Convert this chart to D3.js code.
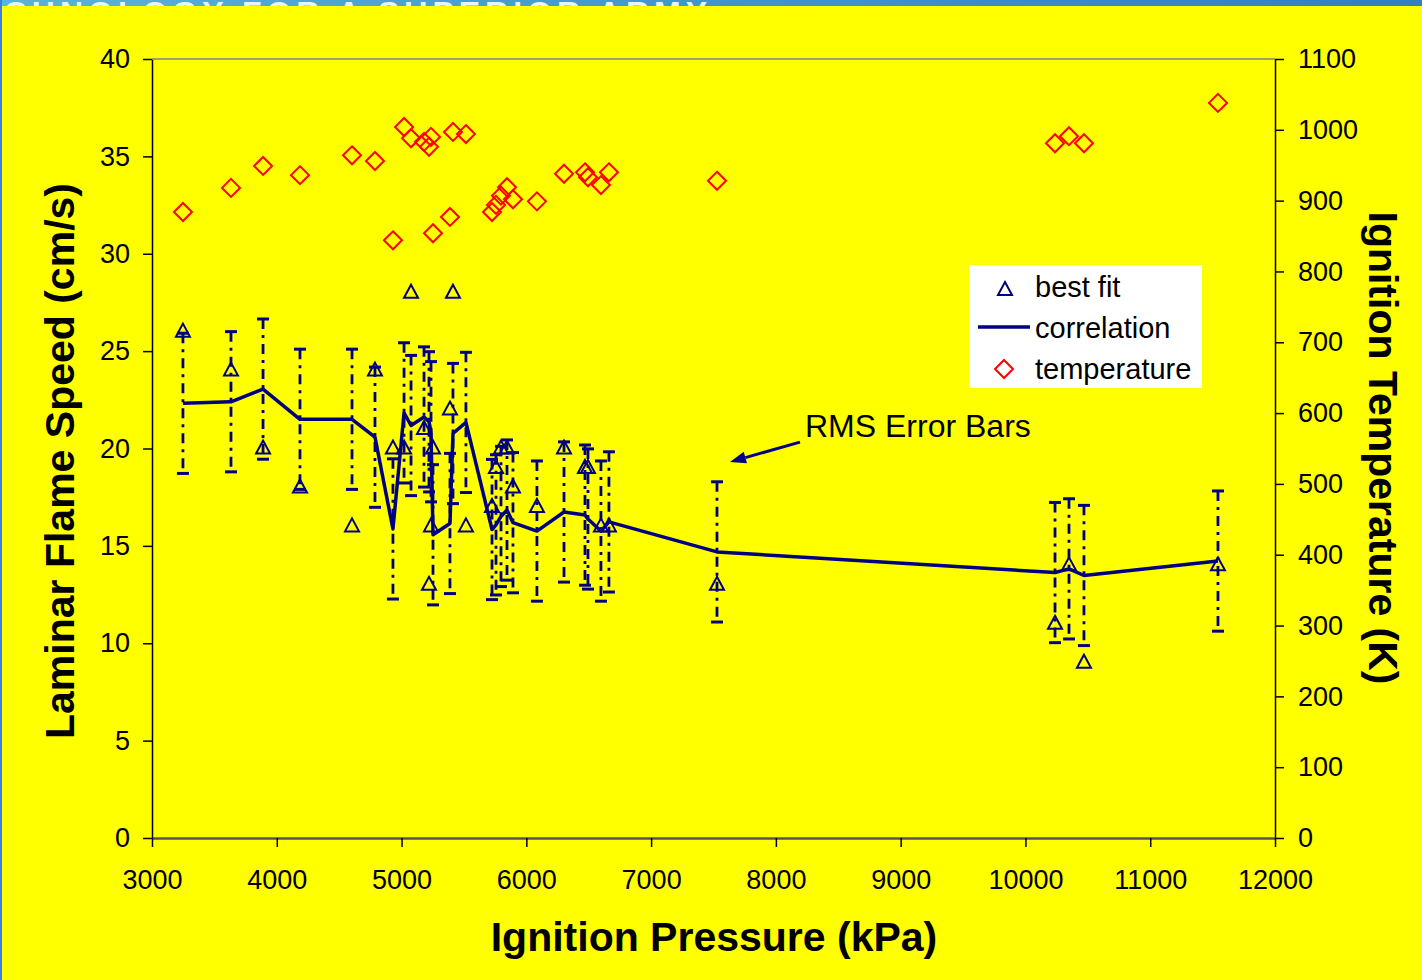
<!DOCTYPE html>
<html>
<head>
<meta charset="utf-8">
<script src="https://cdn.jsdelivr.net/npm/d3@7"></script>
<style>
  html, body { margin: 0; padding: 0; background: #ffff00; }
  svg { display: block; }
  text { font-family: "Liberation Sans", Arial, sans-serif; }
</style>
</head>
<body>
<svg id="chart" width="1422" height="980"></svg>
<script>
// ---- data ----
const pressure = [3248, 3633, 3890, 4186, 4603, 4787, 4931, 5020, 5076, 5180, 5220, 5236, 5252, 5388, 5412, 5516,
                  5725, 5757, 5797, 5845, 5893, 6085, 6302, 6470, 6494, 6598, 6662, 7528, 10237, 10349, 10469, 11543];
const bestFit = [26, 24, 20, 18, 16, 24, 20, 20, 28, 21, 13, 16, 20, 22, 28, 16,
                 17, 19, 20, 20, 18, 17, 20, 19, 19, 16, 16, 13, 11, 14, 9, 14];
const correlation = [22.32, 22.40, 23.05, 21.50, 21.50, 20.58, 15.87, 21.83, 21.18, 21.62, 21.37, 20.86, 15.57, 16.15, 20.77, 21.34,
                     15.84, 16.08, 16.51, 16.84, 16.19, 15.76, 16.74, 16.58, 16.38, 15.76, 16.23, 14.69, 13.63, 13.82, 13.48, 14.22];
const temperature = [884, 918, 949, 936, 964, 956, 844, 1004, 988, 983, 976, 990, 854, 877, 997, 994,
                     884, 894, 907, 919, 902, 899, 938, 940, 933, 922, 940, 928, 981, 991, 981, 1038];
const rmsError = 3.6;
const xTicks = [3000, 4000, 5000, 6000, 7000, 8000, 9000, 10000, 11000, 12000];
const yLeftTicks = [0, 5, 10, 15, 20, 25, 30, 35, 40];
const yRightTicks = [0, 100, 200, 300, 400, 500, 600, 700, 800, 900, 1000, 1100];
const legendLabels = ["best fit", "correlation", "temperature"];
const annotation = { text: "RMS Error Bars", from: [8193, 20.33], to: [7632, 19.31] };
const bannerText = "SUPERIOR TECHNOLOGY FOR A SUPERIOR ARMY";

// ---- setup ----
const svg = d3.select("#chart");
const NAVY = "#000080";
const x = d3.scaleLinear().domain([3000, 12000]).range([152, 1275]);
const yL = d3.scaleLinear().domain([0, 40]).range([838, 59]);
const yR = d3.scaleLinear().domain([0, 1100]).range([838, 59]);

// background + top banner
svg.append("rect").attr("width", 1422).attr("height", 980).attr("fill", "#ffff00");
const defs = svg.append("defs");
const grad = defs.append("linearGradient").attr("id", "banner").attr("x1", 0).attr("x2", 1);
grad.append("stop").attr("offset", 0).attr("stop-color", "#5ab4d8");
grad.append("stop").attr("offset", 0.5).attr("stop-color", "#3f96cc");
grad.append("stop").attr("offset", 1).attr("stop-color", "#3180c0");
defs.append("clipPath").attr("id", "bannerClip").append("rect").attr("width", 1422).attr("height", 6);
const banner = svg.append("g").attr("clip-path", "url(#bannerClip)");
banner.append("rect").attr("width", 1422).attr("height", 6).attr("fill", "url(#banner)");
banner.append("text").attr("x", 712).attr("y", 24).attr("text-anchor", "end").attr("fill", "#e8f4fa")
  .style("font-size", "32px").style("font-weight", "bold").style("letter-spacing", "5px")
  .text(bannerText);
svg.append("rect").attr("x", 0).attr("y", 0).attr("width", 2).attr("height", 980).attr("fill", "#3a7fe0");

// ---- axes ----
const fs = "27px";
const axL = svg.append("g").attr("transform", "translate(152,0)")
  .call(d3.axisLeft(yL).tickValues(yLeftTicks).tickSize(9).tickPadding(13).tickSizeOuter(0));
const axR = svg.append("g").attr("transform", "translate(1275,0)")
  .call(d3.axisRight(yR).tickValues(yRightTicks).tickSize(9).tickPadding(14).tickSizeOuter(0).tickFormat(d3.format("d")));
const axB = svg.append("g").attr("transform", "translate(0,838)")
  .call(d3.axisBottom(x).tickValues(xTicks).tickSize(9).tickPadding(23).tickSizeOuter(0).tickFormat(d3.format("d")));
[axL, axR, axB].forEach(a => {
  a.selectAll("text").style("font-size", fs).attr("fill", "#000");
  a.selectAll("line").attr("stroke", "#000").attr("stroke-width", 1.5);
  a.select(".domain").attr("stroke", "#000").attr("stroke-width", 1.5);
});
axB.select(".domain").attr("stroke", "#555").attr("stroke-width", 2.5);
axB.selectAll("text").attr("dy", "0.72em");
// top frame
svg.append("line").attr("x1", x(3000)).attr("x2", x(12000)).attr("y1", yL(40)).attr("y2", yL(40))
  .attr("stroke", "#808080").attr("stroke-width", 1.5);

// axis titles
svg.append("text").attr("x", 714).attr("y", 951).attr("text-anchor", "middle")
  .style("font-size", "41px").style("font-weight", "bold").text("Ignition Pressure (kPa)");
svg.append("text").attr("transform", "translate(74,461) rotate(-90)").attr("text-anchor", "middle")
  .style("font-size", "41px").style("font-weight", "bold").text("Laminar Flame Speed (cm/s)");
svg.append("text").attr("transform", "translate(1369,448) rotate(90)").attr("text-anchor", "middle")
  .style("font-size", "41px").style("font-weight", "bold").text("Ignition Temperature (K)");

// ---- data marks ----
const pts = pressure.map((p, i) => ({ p, b: bestFit[i], c: correlation[i], t: temperature[i] }));

// error bars
const eb = svg.append("g");
pts.forEach(d => {
  const cx = x(d.p), y1 = yL(d.c + rmsError), y2 = yL(d.c - rmsError);
  eb.append("line").attr("x1", cx).attr("x2", cx).attr("y1", y1).attr("y2", y2)
    .attr("stroke", NAVY).attr("stroke-width", 2.8).attr("stroke-dasharray", "10,6,3,6");
  [y1, y2].forEach(yy => eb.append("line").attr("x1", cx - 6).attr("x2", cx + 6).attr("y1", yy).attr("y2", yy)
    .attr("stroke", NAVY).attr("stroke-width", 3));
});

// correlation line
svg.append("path").datum(pts)
  .attr("d", d3.line().x(d => x(d.p)).y(d => yL(d.c)))
  .attr("fill", "none").attr("stroke", NAVY).attr("stroke-width", 3.5).attr("stroke-linejoin", "round");

// best fit triangles
const triPath = "M0,-8L7,5L-7,5Z";
svg.append("g").selectAll("path").data(pts).join("path")
  .attr("d", triPath).attr("transform", d => `translate(${x(d.p)},${yL(d.b)})`)
  .attr("fill", "none").attr("stroke", NAVY).attr("stroke-width", 2);

// temperature diamonds
const diaPath = "M0,-9L9,0L0,9L-9,0Z";
svg.append("g").selectAll("path").data(pts).join("path")
  .attr("d", diaPath).attr("transform", d => `translate(${x(d.p)},${yR(d.t)})`)
  .attr("fill", "none").attr("stroke", "#ff0000").attr("stroke-width", 2);

// ---- annotation ----
const ax0 = x(annotation.from[0]), ay0 = yL(annotation.from[1]);
const ax1 = x(annotation.to[0]), ay1 = yL(annotation.to[1]);
const ang = Math.atan2(ay1 - ay0, ax1 - ax0);
const hl = 16, hw = 6;
const bx = ax1 - hl * Math.cos(ang), by = ay1 - hl * Math.sin(ang);
svg.append("line").attr("x1", ax0).attr("y1", ay0).attr("x2", bx).attr("y2", by)
  .attr("stroke", NAVY).attr("stroke-width", 3);
svg.append("path").attr("d", `M${ax1},${ay1}L${bx - hw * Math.sin(ang)},${by + hw * Math.cos(ang)}L${bx + hw * Math.sin(ang)},${by - hw * Math.cos(ang)}Z`)
  .attr("fill", NAVY);
svg.append("text").attr("x", 805).attr("y", 437).style("font-size", "32px").text(annotation.text);

// ---- legend ----
const lg = svg.append("g");
lg.append("rect").attr("x", 969).attr("y", 265).attr("width", 233).attr("height", 123).attr("fill", "#fff");
lg.append("path").attr("d", triPath).attr("transform", "translate(1005,290)")
  .attr("fill", "none").attr("stroke", NAVY).attr("stroke-width", 2);
lg.append("line").attr("x1", 978).attr("x2", 1030).attr("y1", 327).attr("y2", 327)
  .attr("stroke", NAVY).attr("stroke-width", 3.5);
lg.append("path").attr("d", diaPath).attr("transform", "translate(1004,369)")
  .attr("fill", "none").attr("stroke", "#ff0000").attr("stroke-width", 2);
[297, 338, 379].forEach((yy, i) => lg.append("text").attr("x", 1035).attr("y", yy)
  .style("font-size", "29px").text(legendLabels[i]));
</script>
</body>
</html>
